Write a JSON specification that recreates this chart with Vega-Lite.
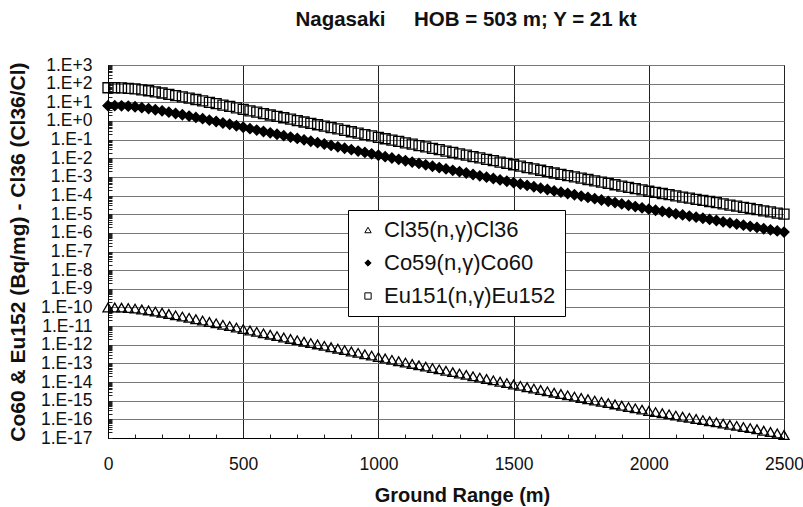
{
"$schema": "https://vega.github.io/schema/vega-lite/v6.json",
"width": 676, "height": 373,
"autosize": {"type": "none"},
"padding": {"left": 108, "top": 65, "right": 19, "bottom": 69},
"background": "white",
"config": {"view": {"stroke": "#000", "strokeWidth": 1}, "font": "Liberation Sans"},
"title": {"text": "Nagasaki\u00a0\u00a0\u00a0\u00a0\u00a0HOB = 503 m; Y = 21 kt", "font": "Liberation Sans", "fontSize": 20.5, "fontWeight": "bold", "color": "#111", "anchor": "middle", "frame": "group", "baseline": "alphabetic", "offset": 10, "dx": 20},
"data": {"values": [
{"r":0,"cl":1.00e-10,"co":6.63,"eu":60.3},
{"r":25,"cl":1.00e-10,"co":6.63,"eu":60.3},
{"r":50,"cl":9.78e-11,"co":6.48,"eu":58.9},
{"r":75,"cl":9.33e-11,"co":6.18,"eu":56.2},
{"r":100,"cl":8.72e-11,"co":5.78,"eu":52.5},
{"r":125,"cl":7.77e-11,"co":5.15,"eu":46.8},
{"r":150,"cl":6.92e-11,"co":4.59,"eu":41.7},
{"r":175,"cl":6.03e-11,"co":3.99,"eu":36.3},
{"r":200,"cl":5.25e-11,"co":3.48,"eu":31.6},
{"r":225,"cl":4.47e-11,"co":2.96,"eu":26.9},
{"r":250,"cl":3.80e-11,"co":2.52,"eu":22.9},
{"r":275,"cl":3.24e-11,"co":2.15,"eu":19.5},
{"r":300,"cl":2.76e-11,"co":1.83,"eu":16.6},
{"r":325,"cl":2.34e-11,"co":1.55,"eu":14.1},
{"r":350,"cl":1.99e-11,"co":1.32,"eu":12.0},
{"r":375,"cl":1.66e-11,"co":1.10,"eu":10.0},
{"r":400,"cl":1.41e-11,"co":0.936,"eu":8.51},
{"r":425,"cl":1.18e-11,"co":0.779,"eu":7.08},
{"r":450,"cl":1.00e-11,"co":0.663,"eu":6.03},
{"r":475,"cl":8.32e-12,"co":0.551,"eu":5.01},
{"r":500,"cl":6.92e-12,"co":0.459,"eu":4.17},
{"r":525,"cl":5.83e-12,"co":0.386,"eu":3.51},
{"r":550,"cl":4.90e-12,"co":0.325,"eu":2.95},
{"r":575,"cl":4.12e-12,"co":0.273,"eu":2.48},
{"r":600,"cl":3.47e-12,"co":0.230,"eu":2.09},
{"r":625,"cl":2.92e-12,"co":0.194,"eu":1.76},
{"r":650,"cl":2.46e-12,"co":0.163,"eu":1.48},
{"r":675,"cl":2.06e-12,"co":0.136,"eu":1.24},
{"r":700,"cl":1.74e-12,"co":0.116,"eu":1.05},
{"r":725,"cl":1.46e-12,"co":0.0969,"eu":0.881},
{"r":750,"cl":1.23e-12,"co":0.0815,"eu":0.741},
{"r":775,"cl":1.04e-12,"co":0.0686,"eu":0.624},
{"r":800,"cl":8.72e-13,"co":0.0578,"eu":0.525},
{"r":825,"cl":7.34e-13,"co":0.0486,"eu":0.442},
{"r":850,"cl":6.18e-13,"co":0.0409,"eu":0.372},
{"r":875,"cl":5.20e-13,"co":0.0344,"eu":0.313},
{"r":900,"cl":4.37e-13,"co":0.0289,"eu":0.263},
{"r":925,"cl":3.67e-13,"co":0.0243,"eu":0.221},
{"r":950,"cl":3.09e-13,"co":0.0205,"eu":0.186},
{"r":975,"cl":2.61e-13,"co":0.0173,"eu":0.157},
{"r":1000,"cl":2.19e-13,"co":0.0145,"eu":0.132},
{"r":1025,"cl":1.84e-13,"co":0.0122,"eu":0.111},
{"r":1050,"cl":1.56e-13,"co":0.0103,"eu":0.0940},
{"r":1075,"cl":1.32e-13,"co":0.00873,"eu":0.0794},
{"r":1100,"cl":1.11e-13,"co":0.00737,"eu":0.0670},
{"r":1125,"cl":9.40e-14,"co":0.00623,"eu":0.0566},
{"r":1150,"cl":7.93e-14,"co":0.00526,"eu":0.0478},
{"r":1175,"cl":6.71e-14,"co":0.00444,"eu":0.0404},
{"r":1200,"cl":5.64e-14,"co":0.00374,"eu":0.0340},
{"r":1225,"cl":4.78e-14,"co":0.00317,"eu":0.0288},
{"r":1250,"cl":4.03e-14,"co":0.00267,"eu":0.0243},
{"r":1275,"cl":3.40e-14,"co":0.00226,"eu":0.0205},
{"r":1300,"cl":2.87e-14,"co":0.00190,"eu":0.0173},
{"r":1325,"cl":2.42e-14,"co":0.00161,"eu":0.0146},
{"r":1350,"cl":2.04e-14,"co":0.00135,"eu":0.0123},
{"r":1375,"cl":1.73e-14,"co":0.00114,"eu":0.0104},
{"r":1400,"cl":1.46e-14,"co":9.67e-4,"eu":8.79e-3},
{"r":1425,"cl":1.23e-14,"co":8.17e-4,"eu":7.43e-3},
{"r":1450,"cl":1.04e-14,"co":6.90e-4,"eu":6.27e-3},
{"r":1475,"cl":8.80e-15,"co":5.83e-4,"eu":5.30e-3},
{"r":1500,"cl":7.42e-15,"co":4.92e-4,"eu":4.47e-3},
{"r":1525,"cl":6.27e-15,"co":4.16e-4,"eu":3.78e-3},
{"r":1550,"cl":5.28e-15,"co":3.50e-4,"eu":3.18e-3},
{"r":1575,"cl":4.47e-15,"co":2.96e-4,"eu":2.69e-3},
{"r":1600,"cl":3.77e-15,"co":2.50e-4,"eu":2.27e-3},
{"r":1625,"cl":3.19e-15,"co":2.11e-4,"eu":1.92e-3},
{"r":1650,"cl":2.69e-15,"co":1.78e-4,"eu":1.62e-3},
{"r":1675,"cl":2.29e-15,"co":1.52e-4,"eu":1.38e-3},
{"r":1700,"cl":1.94e-15,"co":1.29e-4,"eu":1.17e-3},
{"r":1725,"cl":1.66e-15,"co":1.10e-4,"eu":1.00e-3},
{"r":1750,"cl":1.41e-15,"co":9.36e-5,"eu":8.51e-4},
{"r":1775,"cl":1.20e-15,"co":7.96e-5,"eu":7.24e-4},
{"r":1800,"cl":1.02e-15,"co":6.79e-5,"eu":6.17e-4},
{"r":1825,"cl":8.72e-16,"co":5.78e-5,"eu":5.25e-4},
{"r":1850,"cl":7.42e-16,"co":4.92e-5,"eu":4.47e-4},
{"r":1875,"cl":6.31e-16,"co":4.18e-5,"eu":3.80e-4},
{"r":1900,"cl":5.38e-16,"co":3.56e-5,"eu":3.24e-4},
{"r":1925,"cl":4.57e-16,"co":3.03e-5,"eu":2.75e-4},
{"r":1950,"cl":3.88e-16,"co":2.57e-5,"eu":2.34e-4},
{"r":1975,"cl":3.32e-16,"co":2.20e-5,"eu":2.00e-4},
{"r":2000,"cl":2.82e-16,"co":1.87e-5,"eu":1.70e-4},
{"r":2025,"cl":2.46e-16,"co":1.63e-5,"eu":1.48e-4},
{"r":2050,"cl":2.14e-16,"co":1.42e-5,"eu":1.29e-4},
{"r":2075,"cl":1.86e-16,"co":1.23e-5,"eu":1.12e-4},
{"r":2100,"cl":1.59e-16,"co":1.05e-5,"eu":9.55e-5},
{"r":2125,"cl":1.38e-16,"co":9.15e-6,"eu":8.32e-5},
{"r":2150,"cl":1.20e-16,"co":7.96e-6,"eu":7.24e-5},
{"r":2175,"cl":1.05e-16,"co":6.94e-6,"eu":6.31e-5},
{"r":2200,"cl":9.13e-17,"co":6.05e-6,"eu":5.50e-5},
{"r":2225,"cl":7.95e-17,"co":5.27e-6,"eu":4.79e-5},
{"r":2250,"cl":6.92e-17,"co":4.59e-6,"eu":4.17e-5},
{"r":2275,"cl":5.89e-17,"co":3.91e-6,"eu":3.55e-5},
{"r":2300,"cl":5.13e-17,"co":3.40e-6,"eu":3.09e-5},
{"r":2325,"cl":4.47e-17,"co":2.96e-6,"eu":2.69e-5},
{"r":2350,"cl":3.88e-17,"co":2.57e-6,"eu":2.34e-5},
{"r":2375,"cl":3.39e-17,"co":2.24e-6,"eu":2.04e-5},
{"r":2400,"cl":2.95e-17,"co":1.96e-6,"eu":1.78e-5},
{"r":2425,"cl":2.45e-17,"co":1.66e-6,"eu":1.51e-5},
{"r":2450,"cl":2.10e-17,"co":1.45e-6,"eu":1.32e-5},
{"r":2475,"cl":1.75e-17,"co":1.27e-6,"eu":1.15e-5},
{"r":2500,"cl":1.45e-17,"co":1.10e-6,"eu":1.00e-5}
]},
"transform": [{"fold": ["cl", "co", "eu"], "as": ["series", "value"]}],
"mark": {"type": "point", "strokeWidth": 1.3, "opacity": 1, "size": 100},
"encoding": {
"x": {"field": "r", "type": "quantitative", "scale": {"domain": [0, 2500], "nice": false, "zero": false},
 "axis": {"values": [0,100,200,300,400,500,600,700,800,900,1000,1100,1200,1300,1400,1500,1600,1700,1800,1900,2000,2100,2200,2300,2400,2500],
  "format": "d", "labelExpr": "datum.value % 500 == 0 ? datum.label : ''", "labelOverlap": false, "labelFlush": false,
  "grid": true, "gridColor": "#222", "gridOpacity": {"condition": {"test": "datum.value % 500 == 0", "value": 1}, "value": 0},
  "tickSize": -4, "tickColor": "#222", "domainColor": "#000",
  "labelFont": "Liberation Sans", "labelFontSize": 17.5, "labelPadding": 21, "labelColor": "#111",
  "title": "Ground Range (m)", "titleFont": "Liberation Sans", "titleFontSize": 20, "titleFontWeight": "bold", "titlePadding": 13, "titleX": 354, "titleColor": "#111"}},
"y": {"field": "value", "type": "quantitative", "scale": {"type": "log", "domain": [1e-17, 1000], "nice": false},
 "axis": {"values": [1e-17,2e-17,3e-17,4e-17,5e-17,6e-17,7e-17,8e-17,9e-17,1e-16,2e-16,3e-16,4e-16,5e-16,6e-16,7e-16,8e-16,9e-16,1e-15,2e-15,3e-15,4e-15,5e-15,6e-15,7e-15,8e-15,9e-15,1e-14,2e-14,3e-14,4e-14,5e-14,6e-14,7e-14,8e-14,9e-14,1e-13,2e-13,3e-13,4e-13,5e-13,6e-13,7e-13,8e-13,9e-13,1e-12,2e-12,3e-12,4e-12,5e-12,6e-12,7e-12,8e-12,9e-12,1e-11,2e-11,3e-11,4e-11,5e-11,6e-11,7e-11,8e-11,9e-11,1e-10,2e-10,3e-10,4e-10,5e-10,6e-10,7e-10,8e-10,9e-10,1e-9,2e-9,3e-9,4e-9,5e-9,6e-9,7e-9,8e-9,9e-9,1e-8,2e-8,3e-8,4e-8,5e-8,6e-8,7e-8,8e-8,9e-8,1e-7,2e-7,3e-7,4e-7,5e-7,6e-7,7e-7,8e-7,9e-7,1e-6,2e-6,3e-6,4e-6,5e-6,6e-6,7e-6,8e-6,9e-6,1e-5,2e-5,3e-5,4e-5,5e-5,6e-5,7e-5,8e-5,9e-5,1e-4,2e-4,3e-4,4e-4,5e-4,6e-4,7e-4,8e-4,9e-4,0.001,0.002,0.003,0.004,0.005,0.006,0.007,0.008,0.009,0.01,0.02,0.03,0.04,0.05,0.06,0.07,0.08,0.09,0.1,0.2,0.3,0.4,0.5,0.6,0.7,0.8,0.9,1,2,3,4,5,6,7,8,9,10,20,30,40,50,60,70,80,90,100,200,300,400,500,600,700,800,900,1000],
  "labelExpr": "abs(log(datum.value)/LN10 - round(log(datum.value)/LN10)) < 0.01 ? '1.E' + (round(log(datum.value)/LN10) >= 0 ? '+' : '') + round(log(datum.value)/LN10) : ''",
  "labelOverlap": false, "labelFlush": false, "labelBound": false,
  "grid": true, "gridColor": "#777", "gridOpacity": {"condition": {"test": "abs(log(datum.value)/LN10 - round(log(datum.value)/LN10)) < 0.01", "value": 1}, "value": 0},
  "tickSize": -4, "tickColor": "#222", "domainColor": "#000",
  "labelFont": "Liberation Sans", "labelFontSize": 17.5, "labelPadding": 20, "labelColor": "#111",
  "title": "Co60 & Eu152 (Bq/mg) - Cl36 (Cl36/Cl)", "titleFont": "Liberation Sans", "titleFontSize": 21, "titleFontWeight": "bold", "titlePadding": 12, "titleColor": "#111"}},
"shape": {"field": "series", "type": "nominal", "scale": {"domain": ["cl", "co", "eu"], "range": ["triangle-up", "diamond", "square"]},
 "legend": {"orient": "none", "legendX": 240, "legendY": 145, "title": null,
  "labelExpr": "datum.label == 'cl' ? 'Cl35(n,γ)Cl36' : datum.label == 'co' ? 'Co59(n,γ)Co60' : 'Eu151(n,γ)Eu152'",
  "labelFont": "Liberation Sans", "labelFontSize": 22, "labelColor": "#111", "labelOffset": 5, "labelLimit": 400,
  "symbolSize": 40, "symbolStrokeWidth": 1, "symbolOffset": 0,
  "strokeColor": "#000", "fillColor": "white", "padding": 9, "rowPadding": 11, "cornerRadius": 0}},
"fill": {"field": "series", "type": "nominal", "scale": {"domain": ["cl", "co", "eu"], "range": ["transparent", "#000", "transparent"]}},
"stroke": {"field": "series", "type": "nominal", "scale": {"domain": ["cl", "co", "eu"], "range": ["#000", "#000", "#000"]}}
}
}
